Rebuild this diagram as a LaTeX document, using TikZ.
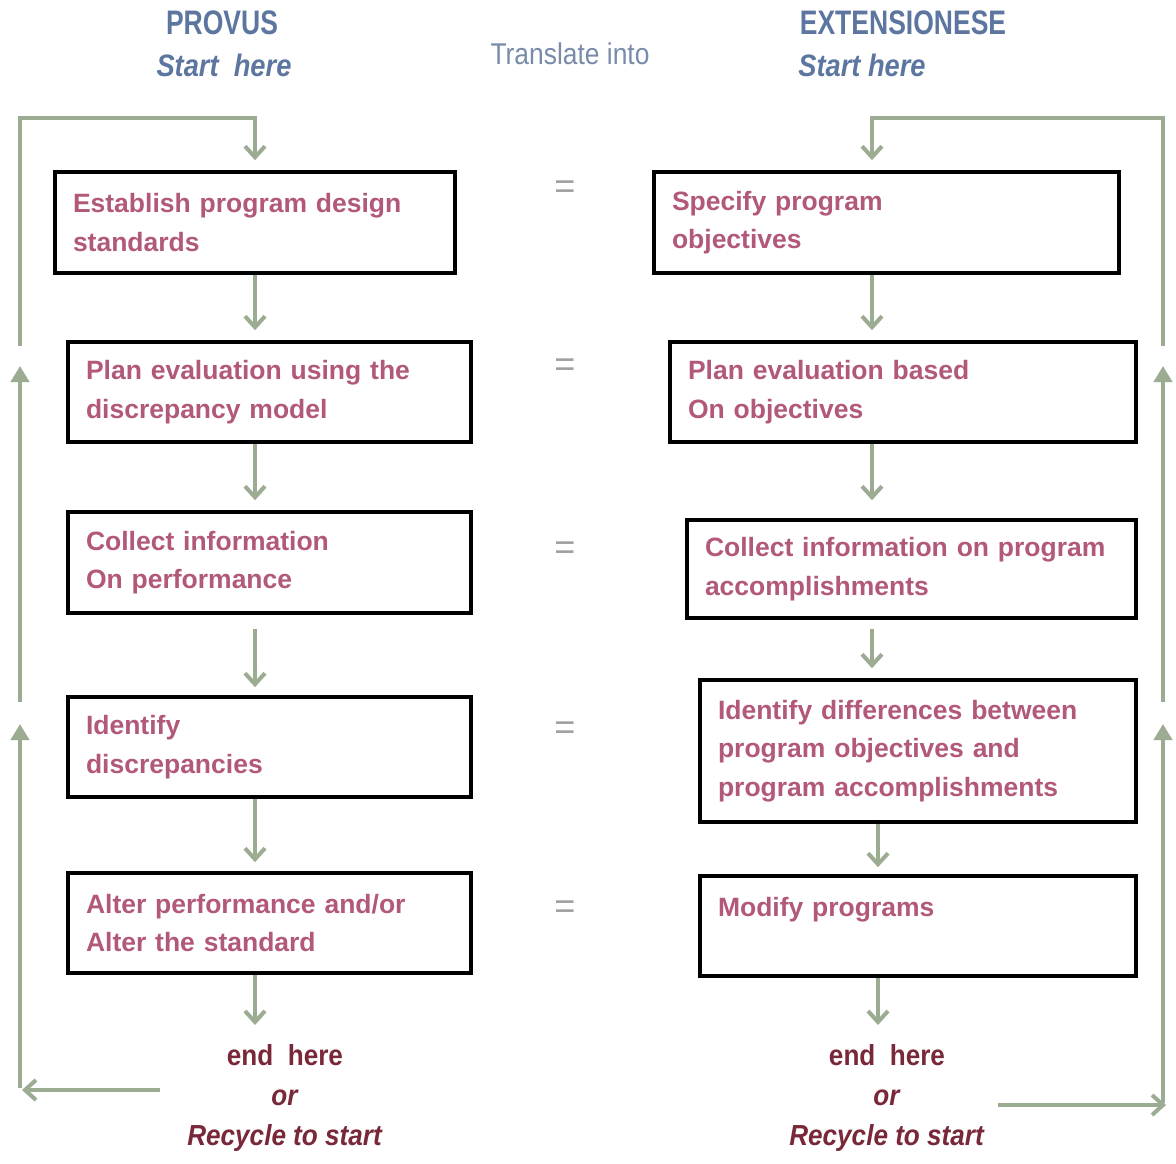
\documentclass[tikz,border=0pt]{standalone}
\usepackage{fontspec}
\setmainfont{Liberation Sans}
\newfontfamily\condA{Liberation Sans}[FakeStretch=0.78]
\newfontfamily\condB{Liberation Sans}[FakeStretch=0.88]
\newfontfamily\condC{Liberation Sans}[FakeStretch=0.9]
\usetikzlibrary{arrows.meta,calc}
\definecolor{arrgreen}{RGB}{156,172,146}
\definecolor{boxtext}{RGB}{178,88,122}
\definecolor{titleblue}{RGB}{92,118,160}
\definecolor{transblue}{RGB}{120,140,170}
\definecolor{endred}{RGB}{120,40,56}
\begin{document}
\begin{tikzpicture}[x=1pt,y=-1pt,
  stepbox/.style={draw=black,line width=3.6pt,fill=white,inner xsep=18pt,inner ysep=0pt,
    align=left,text=boxtext,font=\fontsize{26.5}{38.5}\selectfont\bfseries,anchor=center},
  arr/.style={draw=arrgreen,line width=4pt,-{Straight Barb[length=11pt,width=20pt,line width=4pt]}},
  uparr/.style={draw=arrgreen,line width=4pt,-{Triangle[length=16pt,width=18pt]}},
  eqs/.style={text=gray!75,font=\fontsize{36}{36}\selectfont},
  titlet/.style={text=titleblue,font=\condA\fontsize{34}{34}\selectfont\bfseries},
  startt/.style={text=titleblue,font=\condB\fontsize{31}{31}\selectfont\bfseries\itshape},
  endt/.style={text=endred,align=center,font=\condC\fontsize{29}{40}\selectfont\bfseries}]
\useasboundingbox[fill=white] (0,0) rectangle (1176,1163);

% titles
\node[titlet] (provus) at (222,23) {PROVUS};
\node[startt] (startL) at (224,65) {Start\ \ here};
\node[titlet] (ext) at (903,23) {EXTENSIONESE};
\node[startt] (startR) at (862,65) {Start here};
\node[text=transblue,font=\condB\fontsize{30}{30}\selectfont] (trans) at (570,54) {Translate into};

% left boxes
\node[stepbox,minimum width=400pt,minimum height=101pt,text width=364pt] (L1) at (255,222.5) {Establish program design\\standards};
\node[stepbox,minimum width=403pt,minimum height=100pt,text width=367pt] (L2) at (269.5,392) {Plan evaluation using the\\discrepancy model};
\node[stepbox,minimum width=403pt,minimum height=101pt,text width=367pt] (L3) at (269.5,562.5) {Collect information\\On performance};
\node[stepbox,minimum width=403pt,minimum height=100pt,text width=367pt] (L4) at (269.5,747) {Identify\\discrepancies};
\node[stepbox,minimum width=403pt,minimum height=100pt,text width=367pt] (L5) at (269.5,923) {Alter performance and/or\\Alter the standard};

% right boxes
\node[stepbox,minimum width=465pt,minimum height=101pt,text width=429pt] (R1) at (886.5,222.5) {Specify program\\objectives};
\node[stepbox,minimum width=466pt,minimum height=100pt,text width=430pt] (R2) at (903,392) {Plan evaluation based\\On objectives};
\node[stepbox,minimum width=449pt,minimum height=98pt,text width=413pt] (R3) at (911.5,569) {Collect information on program\\accomplishments};
\node[stepbox,minimum width=436pt,minimum height=142pt,text width=400pt] (R4) at (918,751) {Identify differences between\\program objectives and\\program accomplishments};
\node[stepbox,minimum width=436pt,minimum height=100pt,text width=400pt] (R5) at (918,926) {Modify programs\\\mbox{}};

% equals
\foreach \y/\n in {190/e1,368/e2,551/e3,731/e4,910/e5}
  \node[eqs] (\n) at (565,\y) {=};

% end texts
\node[endt] (endL) at (285,1098) {end\ \ here\\\textit{or}\\\textit{Recycle to start}};
\node[endt] (endR) at (887,1098) {end\ \ here\\\textit{or}\\\textit{Recycle to start}};

% left column arrows
\draw[arr,shorten >=10pt] (L1.south) -- (L2.north -| L1.south);
\draw[arr,shorten >=10pt] (L2.south -| L1.south) -- (L3.north -| L1.south);
\draw[arr,shorten <=14pt,shorten >=8pt] (L3.south -| L1.south) -- (L4.north -| L1.south);
\draw[arr,shorten >=9pt] (L4.south -| L1.south) -- (L5.north -| L1.south);
\draw[arr,shorten >=16pt] (L5.south -| L1.south) -- (endL.north -| L1.south);

% right column arrows
\coordinate (rx) at (872,0);
\coordinate (rx2) at (878,0);
\draw[arr,shorten >=10pt] (R1.south -| rx) -- (R2.north -| rx);
\draw[arr,shorten >=18pt] (R2.south -| rx) -- (R3.north -| rx);
\draw[arr,shorten <=9pt,shorten >=10pt] (R3.south -| rx) -- (R4.north -| rx);
\draw[arr,shorten >=7pt] (R4.south -| rx2) -- (R5.north -| rx2);
\draw[arr,shorten >=16pt] (R5.south -| rx2) -- (endR.north -| rx2);

% left loop
\coordinate (lb1) at (160,1090);
\coordinate (lb2) at (22,1090);
\coordinate (lv1) at (20,1088);
\coordinate (lv2) at (20,724);
\coordinate (lv3) at (20,702);
\coordinate (lv4) at (20,366);
\coordinate (lv5) at (20,346);
\coordinate (lt1) at (20,118);
\coordinate (lt2) at (255,118);
\draw[arr] (lb1) -- (lb2);
\draw[uparr] (lv1) -- (lv2);
\draw[uparr] (lv3) -- (lv4);
\draw[arr,shorten >=10pt] (lv5) -- (lt1) -- (lt2) -- (L1.north);

% right loop
\coordinate (rb1) at (998,1105);
\coordinate (rb2) at (1166,1105);
\coordinate (rv1) at (1163,1103);
\coordinate (rv2) at (1163,724);
\coordinate (rv3) at (1163,702);
\coordinate (rv4) at (1163,366);
\coordinate (rv5) at (1163,346);
\coordinate (rt1) at (1163,118);
\coordinate (rt2) at (872,118);
\draw[arr] (rb1) -- (rb2);
\draw[uparr] (rv1) -- (rv2);
\draw[uparr] (rv3) -- (rv4);
\draw[arr,shorten >=10pt] (rv5) -- (rt1) -- (rt2) -- (R1.north -| rx);
\end{tikzpicture}
\end{document}
